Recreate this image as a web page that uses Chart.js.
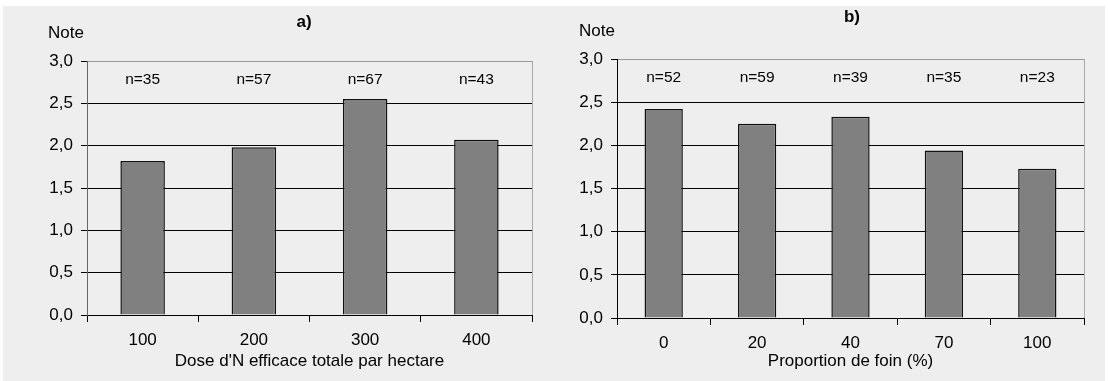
<!DOCTYPE html>
<html>
<head>
<meta charset="utf-8">
<script src="https://cdn.jsdelivr.net/npm/chart.js@4/dist/chart.umd.min.js"></script>
<style>
    html, body { margin: 0; padding: 0; background: #fff; }
    .frame { position: absolute; left: 3px; top: 6px; width: 1102px; height: 375px; background: #eeeeee; }
    canvas { position: absolute; top: 0; }
    #chartA { left: 0; }
    #chartB { left: 555px; }
</style>
</head>
<body>
<div class="frame"></div>
<canvas id="chartA" width="555" height="381"></canvas>
<canvas id="chartB" width="553" height="381"></canvas>
<script>
// Panel a) - nitrogen dose
const doseLabels = ['100', '200', '300', '400'];
const doseNotes = [1.82, 1.98, 2.55, 2.07];
const doseCounts = [35, 57, 67, 43];

// Panel b) - hay proportion
const foinLabels = ['0', '20', '40', '70', '100'];
const foinNotes = [2.42, 2.25, 2.33, 1.94, 1.73];
const foinCounts = [52, 59, 39, 35, 23];

const FONT = '"Liberation Sans", Arial, sans-serif';

function makeChart(id, labels, values, counts, cfg) {
    const ctx = document.getElementById(id).getContext('2d');

    // texts outside the axes + right border of the plot
    const extras = {
        id: 'extras',
        afterDraw(chart) {
            const c = chart.ctx;
            const area = chart.chartArea;
            const x = chart.scales.x;
            c.save();
            c.strokeStyle = '#aaaaaa';
            c.lineWidth = 1;
            c.beginPath();
            c.moveTo(Math.round(area.right) + 0.5, area.top);
            c.lineTo(Math.round(area.right) + 0.5, area.bottom);
            c.stroke();

            c.fillStyle = '#000';
            c.textAlign = 'center';
            c.textBaseline = 'middle';
            c.font = '15.5px ' + FONT;
            counts.forEach((n, i) => {
                c.fillText('n=' + n, x.getPixelForValue(i), area.top + 19);
            });
            c.font = '17px ' + FONT;
            c.fillText('Note', cfg.noteX, cfg.noteY);
            c.font = 'bold 17px ' + FONT;
            c.fillText(cfg.title, cfg.titleX, cfg.titleY);
            c.restore();
        }
    };

    return new Chart(ctx, {
        type: 'bar',
        data: {
            labels: labels,
            datasets: [{
                data: values,
                backgroundColor: '#808080',
                borderColor: '#111111',
                borderWidth: { top: 1.5, left: 1.5, right: 1.5, bottom: 0 },
                borderSkipped: false,
                barPercentage: cfg.barPct,
                categoryPercentage: 1
            }]
        },
        options: {
            responsive: false,
            animation: false,
            layout: {
                padding: { left: 0, right: cfg.padRight, top: cfg.top, bottom: 0 }
            },
            plugins: {
                legend: { display: false },
                tooltip: { enabled: false }
            },
            scales: {
                x: {
                    afterFit: scale => { scale.height = cfg.xHeight; },
                    border: { color: '#000', width: 1 },
                    grid: {
                        drawOnChartArea: false,
                        color: '#000',
                        tickLength: 7
                    },
                    ticks: {
                        color: '#000',
                        padding: 8,
                        font: { family: FONT, size: 17 }
                    },
                    title: {
                        display: true,
                        text: cfg.xTitle,
                        color: '#000',
                        padding: { top: 0, bottom: 9 },
                        font: { family: FONT, size: 17 }
                    }
                },
                y: {
                    min: 0,
                    max: 3,
                    afterFit: scale => { scale.width = cfg.left; },
                    border: { color: cfg.axisColor, width: 1 },
                    grid: {
                        color: c => (c.tick && c.tick.value === 3 ? '#999999' : '#000000'),
                        tickColor: '#000',
                        tickLength: 6,
                        lineWidth: 1
                    },
                    ticks: {
                        stepSize: 0.5,
                        color: '#000',
                        padding: 8,
                        font: { family: FONT, size: 17 },
                        callback: value => value.toFixed(1).replace('.', ',')
                    }
                }
            }
        },
        plugins: [extras]
    });
}

makeChart('chartA', doseLabels, doseNotes, doseCounts, {
    left: 87, padRight: 23, top: 61, xHeight: 66, barPct: 0.40,
    axisColor: '#666666',
    xTitle: "Dose d'N efficace totale par hectare",
    title: 'a)', titleX: 304, titleY: 22,
    noteX: 66, noteY: 33
});

makeChart('chartB', foinLabels, foinNotes, foinCounts, {
    left: 62, padRight: 24, top: 59, xHeight: 63, barPct: 0.41,
    axisColor: '#000000',
    xTitle: 'Proportion de foin (%)',
    title: 'b)', titleX: 297, titleY: 17,
    noteX: 42, noteY: 31
});
</script>
</body>
</html>
